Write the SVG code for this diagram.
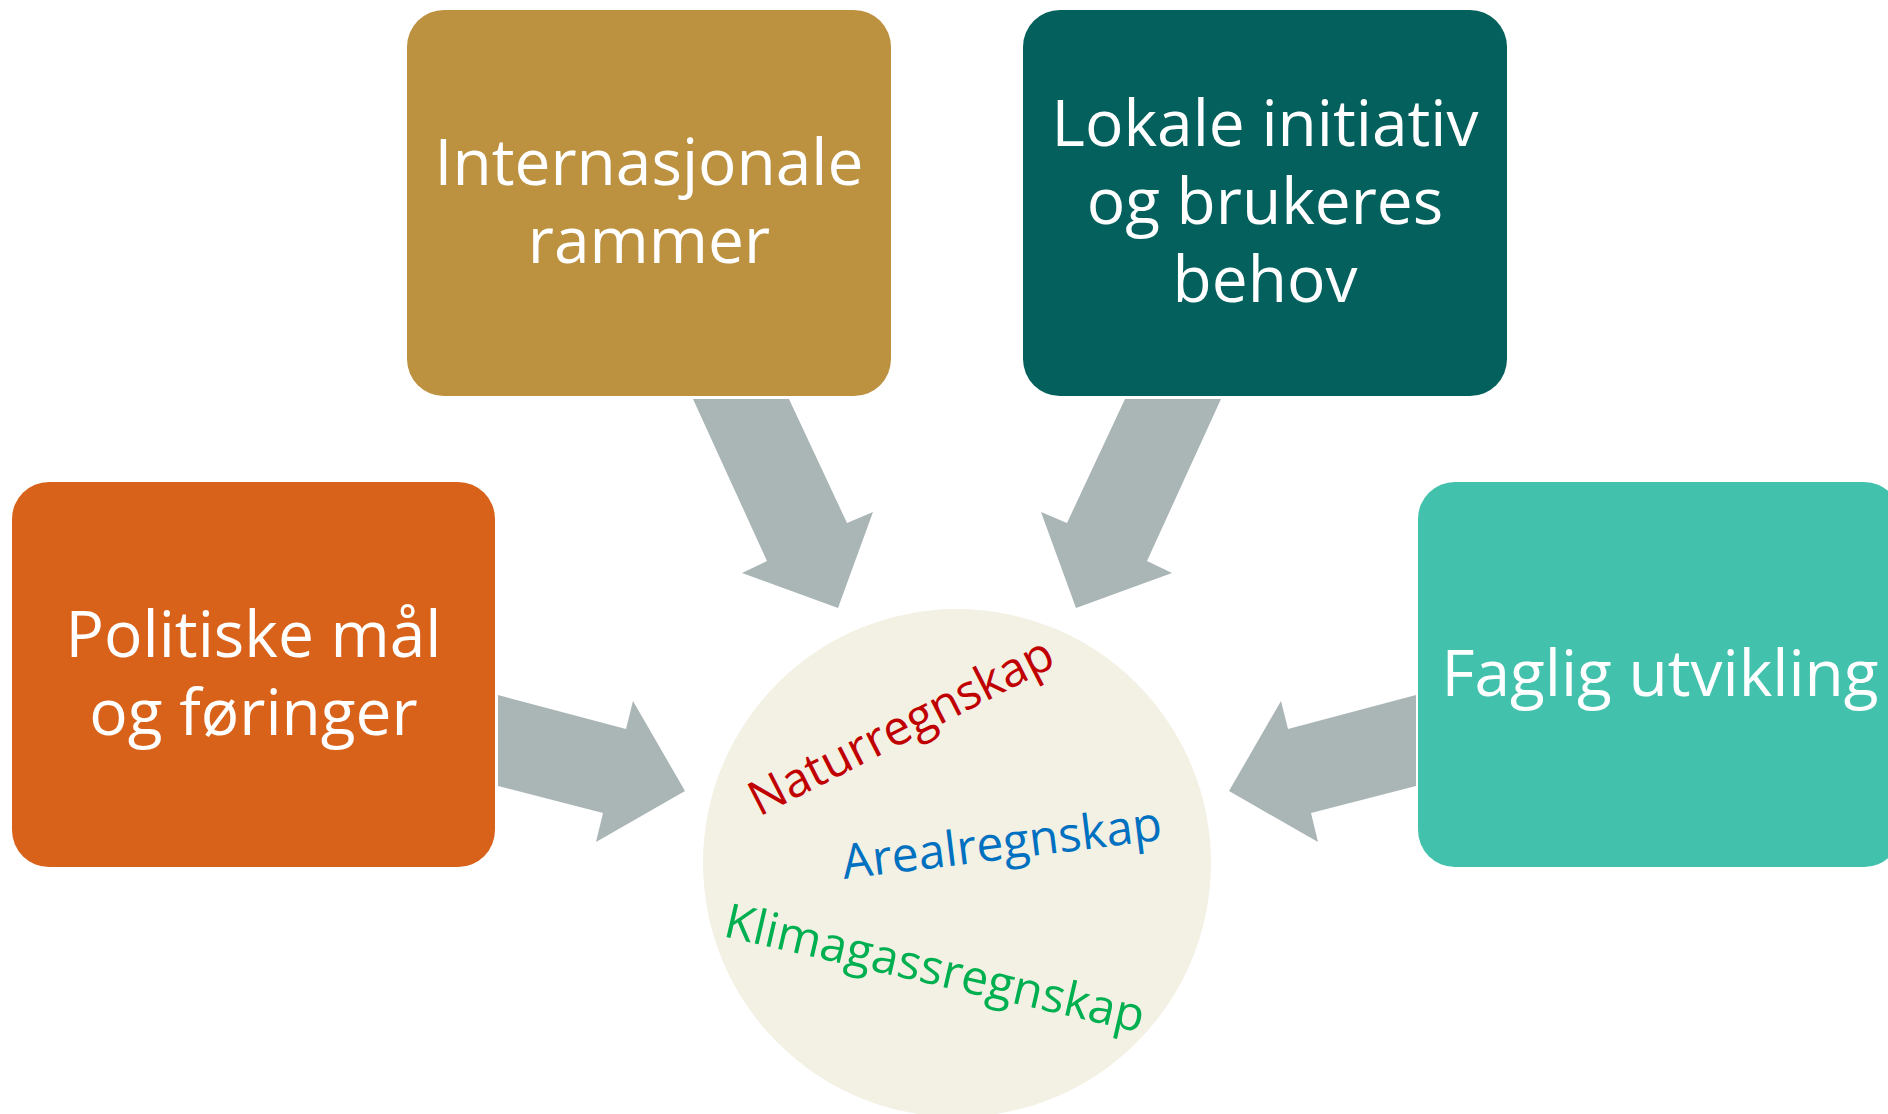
<svg xmlns="http://www.w3.org/2000/svg" width="1888" height="1114" viewBox="0 0 1888 1114">
<style>
.box text{font-family:"Open Sans","Noto Sans",sans-serif;font-size:64px;fill:#ffffff;text-anchor:middle}
.arrow{fill:#AAB5B5}
.ct{font-family:"Open Sans","Noto Sans",sans-serif;font-size:48px}
</style>
<rect width="1888" height="1114" fill="#ffffff"/>
<g id="connectors">
<polygon class="arrow" points="498,695 626,729 633,701 685,791 596,842 603,813 498,786"/>
<polygon class="arrow" points="1416,695 1288,729 1281,701 1229,791 1318,842 1311,813 1416,786"/>
<polygon class="arrow" points="693,399 789,399 847,523 873,512 838,608 742,573 767,561"/>
<polygon class="arrow" points="1221,399 1125,399 1067,523 1041,512 1076,608 1172,573 1147,561"/>
</g>
<g id="internasjonale" class="box">
<rect x="407" y="10" width="484" height="386" rx="37" fill="#BC9140"/>
<text x="649" y="185">Internasjonale</text>
<text x="649" y="263">rammer</text>
</g>
<g id="lokale" class="box">
<rect x="1023" y="10" width="484" height="386" rx="37" fill="#03605C"/>
<text x="1265" y="146">Lokale initiativ</text>
<text x="1265" y="224">og brukeres</text>
<text x="1265" y="302">behov</text>
</g>
<g id="politiske" class="box">
<rect x="12" y="482" width="483" height="385" rx="37" fill="#D9621A"/>
<text x="253.5" y="657">Politiske mål</text>
<text x="253.5" y="735">og føringer</text>
</g>
<g id="faglig" class="box">
<rect x="1418" y="482" width="483" height="385" rx="37" fill="#42C1AC"/>
<text x="1660" y="696">Faglig utvikling</text>
</g>
<g id="regnskap">
<circle cx="957" cy="863" r="254" fill="#F3F0E4"/>
<text class="ct" fill="#C00000" transform="translate(759,817) rotate(-27)">Naturregnskap</text>
<text class="ct" fill="#0070C0" transform="translate(844,879) rotate(-7)">Arealregnskap</text>
<text class="ct" fill="#00B050" transform="translate(722,936) rotate(13)">Klimagassregnskap</text>
</g>
</svg>
